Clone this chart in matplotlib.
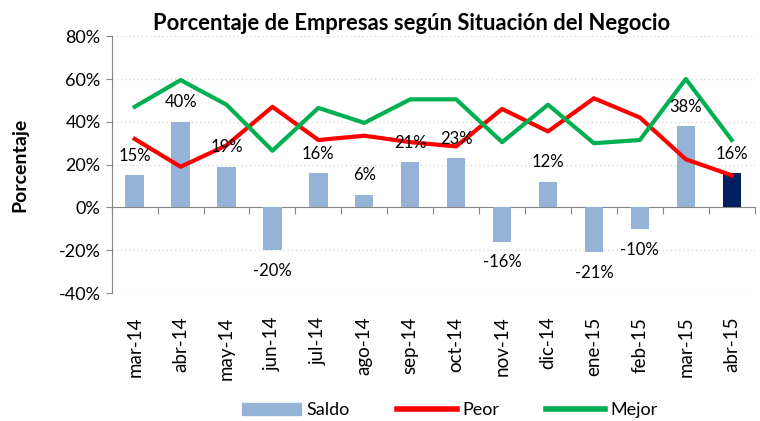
import matplotlib
matplotlib.use("Agg")
import matplotlib.pyplot as plt
import numpy as np
from matplotlib.ticker import FuncFormatter, FixedLocator
from matplotlib.patches import Patch
from matplotlib.lines import Line2D

plt.rcParams['font.family'] = ['Lato', 'DejaVu Sans']

categories = ["mar-14", "abr-14", "may-14", "jun-14", "jul-14", "ago-14", "sep-14",
              "oct-14", "nov-14", "dic-14", "ene-15", "feb-15", "mar-15", "abr-15"]
saldo = [15, 40, 19, -20, 16, 6, 21, 23, -16, 12, -21, -10, 38, 16]
peor = [32, 19, 29, 47, 31.5, 33.5, 30.5, 28.5, 46, 35.5, 51, 42, 22.5, 15]
mejor = [47, 59.5, 48, 26.5, 46.5, 39.5, 50.5, 50.5, 30.5, 48, 30, 31.5, 60, 31.5]

fig = plt.figure(figsize=(7.6, 4.21), dpi=100)
ax = fig.add_axes([0.147, 0.304, 0.846, 0.610])

x = np.arange(len(categories))
bar_colors = ['#95B3D7'] * (len(categories) - 1) + ['#002060']
ax.bar(x, saldo, width=0.4, color=bar_colors, zorder=2)
ax.plot(x, peor, color='#FF0000', lw=3, zorder=3)
ax.plot(x, mejor, color='#00B050', lw=3, zorder=3)

for xi, v in zip(x, saldo):
    off = 14 if v >= 0 else -15
    ax.annotate(f"{v}%", (xi, v), xytext=(0, off), textcoords='offset points',
                ha='center', va='center', fontsize=12, zorder=4)

ax.set_xlim(-0.5, len(categories) - 0.5)
ax.set_ylim(-40, 80)
ax.yaxis.set_major_locator(FixedLocator([-40, -20, 0, 20, 40, 60, 80]))
ax.yaxis.set_major_formatter(FuncFormatter(lambda v, p: f"{int(v)}%"))
ax.tick_params(axis='y', labelsize=13, length=4, color='#868686', pad=4)
for gy in [-40, -20, 20, 40, 60, 80]:
    ax.axhline(gy, color='#D9D9D9', lw=1, ls=(0, (1, 2)), zorder=1)

ax.set_xticks(x)
ax.set_xticklabels(categories, rotation=90, fontsize=13.5)
ax.tick_params(axis='x', length=0, pad=17)

for s in ['top', 'right', 'bottom']:
    ax.spines[s].set_visible(False)
ax.spines['left'].set_color('#868686')

sec = ax.secondary_xaxis(1/3)
sec.set_xticks(np.arange(len(categories) + 1) - 0.5)
sec.set_xticklabels([])
sec.tick_params(axis='x', direction='out', length=5, color='#868686')
sec.spines['bottom'].set_color('#868686')

ax.set_ylabel("Porcentaje", fontsize=14, fontweight='bold', labelpad=22)
fig.text(0.542, 0.945, "Porcentaje de Empresas según Situación del Negocio",
         ha='center', va='center', fontsize=15.8, fontweight='bold')

handles = [Patch(color='#95B3D7'), Line2D([], [], color='#FF0000', lw=4),
           Line2D([], [], color='#00B050', lw=4)]
fig.legend(handles, ["Saldo", "Peor", "Mejor"], loc='center', bbox_to_anchor=(0.592, 0.025),
           ncol=3, frameon=False, fontsize=13, handlelength=3.3, columnspacing=2.6,
           handletextpad=0.3)

fig.savefig("out.png", dpi=100)
